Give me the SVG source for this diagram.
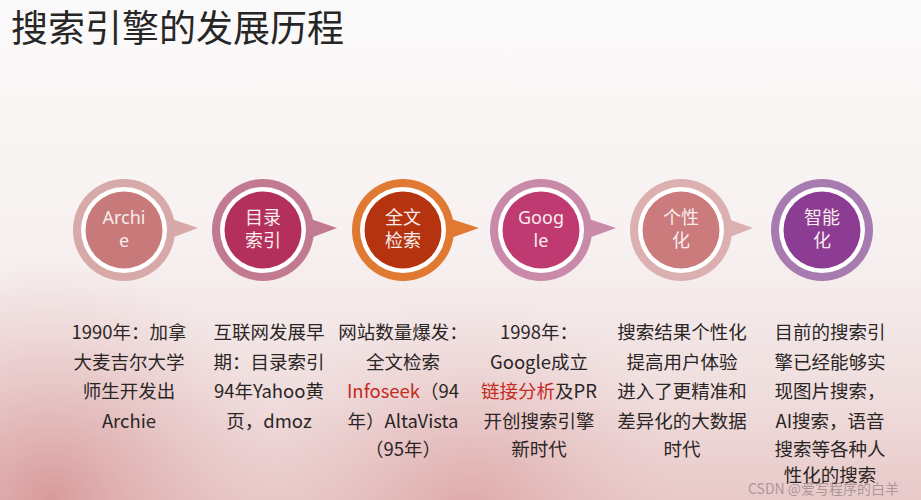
<svg xmlns="http://www.w3.org/2000/svg" width="921" height="500" viewBox="0 0 921 500">
  <defs>
    <linearGradient id="bg" x1="0" y1="0" x2="0" y2="1">
      <stop offset="0" stop-color="#fbfafa"/>
      <stop offset="0.5" stop-color="#f7f0f0"/>
      <stop offset="0.78" stop-color="#f0dede"/>
      <stop offset="1" stop-color="#e9c9c9"/>
    </linearGradient>
    <radialGradient id="glowL" cx="50" cy="500" r="240" gradientUnits="userSpaceOnUse">
      <stop offset="0" stop-color="#d48f90" stop-opacity="0.8"/>
      <stop offset="0.5" stop-color="#dca5a6" stop-opacity="0.4"/>
      <stop offset="1" stop-color="#e6c0c0" stop-opacity="0"/>
    </radialGradient>
    <radialGradient id="glowC" cx="470" cy="515" r="220" gradientUnits="userSpaceOnUse">
      <stop offset="0" stop-color="#d89596" stop-opacity="0.65"/>
      <stop offset="1" stop-color="#e6c0c0" stop-opacity="0"/>
    </radialGradient>
  </defs>
  <style>
    .title { font-family: "Noto Sans CJK SC", "Noto Sans", sans-serif; font-size: 37px; fill: #262626; }
    .lbl { font-family: "Noto Sans", "Noto Sans CJK SC", sans-serif; font-size: 18px; fill: #f8ecec; text-anchor: middle; }
    .desc { font-family: "Noto Sans CJK SC", "Noto Sans", sans-serif; font-size: 18.5px; font-weight: 400; fill: #2a2626; text-anchor: middle; }
    .red { fill: #c62a22; }
    .ring { fill: #ffffff; }
    .wm { font-family: "Noto Sans CJK SC", "Noto Sans", sans-serif; font-size: 14px; fill: #8a8080; fill-opacity: 0.7; }
  </style>

  <rect x="0" y="0" width="921" height="500" fill="url(#bg)"/>
  <rect x="0" y="240" width="921" height="260" fill="url(#glowL)"/>
  <rect x="0" y="240" width="921" height="260" fill="url(#glowC)"/>

  <text class="title" x="11" y="42">搜索引擎的发展历程</text>

  <g id="connectors"/>

  <g id="node-archie">
    <polygon points="166,217 198,228 166,240" fill="#d7a9a8"/>
    <circle cx="124" cy="230" r="51" fill="#d7a9a8"/>
    <circle class="ring" cx="124" cy="230" r="43"/>
    <circle cx="124" cy="230" r="38.5" fill="#c77a79"/>
    <text class="lbl" x="124" y="224">Archi</text>
    <text class="lbl" x="124" y="247">e</text>
    <text class="desc" x="129" y="339">1990年：加拿</text>
    <text class="desc" x="129" y="369">大麦吉尔大学</text>
    <text class="desc" x="129" y="398">师生开发出</text>
    <text class="desc" x="129" y="428">Archie</text>
  </g>

  <g id="node-directory">
    <polygon points="305,217 337,228 305,240" fill="#c27a91"/>
    <circle cx="263" cy="230" r="51" fill="#c27a91"/>
    <circle class="ring" cx="263" cy="230" r="43"/>
    <circle cx="263" cy="230" r="38.5" fill="#b3305c"/>
    <text class="lbl" x="263" y="224">目录</text>
    <text class="lbl" x="263" y="247">索引</text>
    <text class="desc" x="269" y="339">互联网发展早</text>
    <text class="desc" x="269" y="369">期：目录索引</text>
    <text class="desc" x="269" y="398">94年Yahoo黄</text>
    <text class="desc" x="269" y="428">页，dmoz</text>
  </g>

  <g id="node-fulltext">
    <polygon points="445,217 479,228 445,240" fill="#e07a33"/>
    <circle cx="403" cy="230" r="51" fill="#e07a33"/>
    <circle class="ring" cx="403" cy="230" r="43"/>
    <circle cx="403" cy="230" r="38.5" fill="#b5340f"/>
    <text class="lbl" x="403" y="224">全文</text>
    <text class="lbl" x="403" y="247">检索</text>
    <text class="desc" x="403" y="339">网站数量爆发：</text>
    <text class="desc" x="403" y="369">全文检索</text>
    <text class="desc" x="403" y="398"><tspan class="red">Infoseek</tspan>（94</text>
    <text class="desc" x="403" y="428">年）AltaVista</text>
    <text class="desc" x="403" y="456">（95年）</text>
  </g>

  <g id="node-google">
    <polygon points="583,217 616,228 583,240" fill="#c98aa9"/>
    <circle cx="541" cy="230" r="51" fill="#c98aa9"/>
    <circle class="ring" cx="541" cy="230" r="43"/>
    <circle cx="541" cy="230" r="38.5" fill="#bf3a70"/>
    <text class="lbl" x="541" y="224">Goog</text>
    <text class="lbl" x="541" y="247">le</text>
    <text class="desc" x="539" y="339">1998年：</text>
    <text class="desc" x="539" y="369">Google成立</text>
    <text class="desc" x="539" y="398"><tspan class="red">链接分析</tspan>及PR</text>
    <text class="desc" x="539" y="428">开创搜索引擎</text>
    <text class="desc" x="539" y="456">新时代</text>
  </g>

  <g id="node-personal">
    <polygon points="722,217 753,228 722,240" fill="#dcb0b0"/>
    <circle cx="681" cy="230" r="51" fill="#dcb0b0"/>
    <circle class="ring" cx="681" cy="230" r="43"/>
    <circle cx="681" cy="230" r="38.5" fill="#cb7b7c"/>
    <text class="lbl" x="681" y="224">个性</text>
    <text class="lbl" x="681" y="247">化</text>
    <text class="desc" x="682" y="339">搜索结果个性化</text>
    <text class="desc" x="682" y="369">提高用户体验</text>
    <text class="desc" x="682" y="398">进入了更精准和</text>
    <text class="desc" x="682" y="428">差异化的大数据</text>
    <text class="desc" x="682" y="456">时代</text>
  </g>

  <g id="node-intelligent">
    <circle cx="822" cy="230" r="51" fill="#a87bb0"/>
    <circle class="ring" cx="822" cy="230" r="43"/>
    <circle cx="822" cy="230" r="38.5" fill="#8c3d93"/>
    <text class="lbl" x="822" y="224">智能</text>
    <text class="lbl" x="822" y="247">化</text>
    <text class="desc" x="830" y="339">目前的搜索引</text>
    <text class="desc" x="830" y="369">擎已经能够实</text>
    <text class="desc" x="830" y="398">现图片搜索，</text>
    <text class="desc" x="830" y="428">AI搜索，语音</text>
    <text class="desc" x="830" y="456">搜索等各种人</text>
    <text class="desc" x="830" y="482">性化的搜索</text>
  </g>

  <text class="wm" x="748" y="494">CSDN @爱写程序的白羊</text>
</svg>
